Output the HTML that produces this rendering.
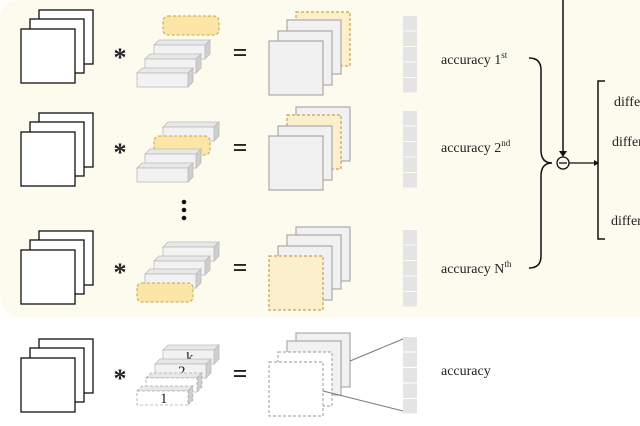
<!DOCTYPE html>
<html><head><meta charset="utf-8"><style>
html,body{margin:0;padding:0;background:#fff;}
svg{display:block;}
text{font-family:"Liberation Serif",serif;fill:#222;}
</style></head><body>
<svg id="s" width="640" height="426" viewBox="0 0 640 426" xmlns="http://www.w3.org/2000/svg">
<path d="M0,20 Q0,0 20,0 L640,0 L640,318 L28,318 Q0,318 0,290 Z" fill="#fdfaee"/>
<g id="g"></g>
<text x="441" y="64" font-size="14">accuracy 1<tspan font-size="9" dy="-6">st</tspan></text>
<text x="441" y="152" font-size="14">accuracy 2<tspan font-size="9" dy="-6">nd</tspan></text>
<text x="441" y="273" font-size="14">accuracy N<tspan font-size="9" dy="-6">th</tspan></text>
<text x="441" y="375" font-size="14">accuracy</text>
<path d="M529,58 Q541,58 541,70 L541,150 Q541,163 552,163 Q541,163 541,176 L541,256 Q541,268 529,268" fill="none" stroke="#111" stroke-width="1.5"/>
<line x1="563" y1="0" x2="563" y2="152" stroke="#111" stroke-width="1.5"/>
<path d="M559,151 L567,151 L563,157 Z" fill="#111"/>
<circle cx="563" cy="163" r="6" fill="none" stroke="#111" stroke-width="1.3"/>
<line x1="559" y1="163" x2="567" y2="163" stroke="#111" stroke-width="1.3"/>
<line x1="569" y1="163" x2="594" y2="163" stroke="#111" stroke-width="1.3"/>
<path d="M594,160 L599,163 L594,166 Z" fill="#111"/>
<path d="M605,81 L598,81 L598,239 L605,239" fill="none" stroke="#111" stroke-width="1.5"/>
<text x="614" y="106" font-size="14">difference</text>
<text x="612" y="146" font-size="14">difference</text>
<text x="611" y="225" font-size="14">difference</text>
<g>
<circle cx="184" cy="202" r="2.3" fill="#111"/><circle cx="184" cy="210" r="2.3" fill="#111"/><circle cx="184" cy="218" r="2.3" fill="#111"/>
</g>
</svg>
<script>
const g=document.getElementById('g');
const NS='http://www.w3.org/2000/svg';
function el(t,a,p){const e=document.createElementNS(NS,t);for(const k in a)e.setAttribute(k,a[k]);(p||g).appendChild(e);return e;}
const rowsY=[29,132,250,358];
rowsY.forEach((y,i)=>{
  [[18,-19],[9,-10],[0,0]].forEach(([dx,dy])=>{
    const r=el('rect',{x:21+dx,y:y+dy,width:54,height:54,fill:'#fff',stroke:'#111','stroke-width':1.3});
    
    
  });
});
[53,148,268,374].forEach(y=>{
  const t=el('text',{x:120,y:y+13,'font-size':26,'font-weight':'bold','text-anchor':'middle'});t.textContent='*';
  
  
  const e=el('text',{x:240,y:y+8,'font-size':26,'font-weight':'bold','text-anchor':'middle'});e.textContent='=';
  
  
});
function bar(x,y,kind,label){
  const grp=el('g',{});
  
  
  if(kind==='y'){
    el('rect',{x:x,y:y,width:56,height:19,rx:5,fill:'#fbe6a8',stroke:'#c9a24a','stroke-dasharray':'3,2'},grp);
  } else {
    const dash=kind==='d'?{'stroke-dasharray':'3,2'}:{};
    const f=kind==='d'?'#fff':'#f2f2f2', c=kind==='d'?'#aaa':'#bbb';
    el('path',Object.assign({d:`M${x},${y+5} l5,-5 l51,0 l-5,5 z`,fill:'#e8e8e8',stroke:c,'stroke-width':0.8},dash),grp);
    el('path',Object.assign({d:`M${x+51},${y+5} l5,-5 l0,14 l-5,5 z`,fill:'#cfcfcf',stroke:c,'stroke-width':0.8},dash),grp);
    el('rect',Object.assign({x:x,y:y+5,width:51,height:14,fill:f,stroke:c,'stroke-width':0.8},dash),grp);
    if(label){const t=el('text',{x:x+23,y:y+17,'font-size':15},grp);t.textContent=label;}
  }
}
bar(163,16,'y');bar(154,40,'g');bar(145,54,'g');bar(137,68,'g');
bar(163,122,'g');bar(154,136,'y');bar(145,149,'g');bar(137,163,'g');
bar(163,242,'g');bar(154,256,'g');bar(145,269,'g');bar(137,283,'y');
bar(163,345,'g','k');bar(155,359,'g','2');bar(146,373,'d');bar(137,386,'d','1');
function stack(y0,kinds){
  [[27,-29],[18,-21],[9,-10],[0,0]].forEach(([dx,dy],j)=>{
    const k=kinds[j];
    let a={x:269+dx,y:y0+dy,width:54,height:54,'stroke-width':1.2};
    if(k==='y')Object.assign(a,{fill:'#fcf0cc',stroke:'#c9a24a','stroke-dasharray':'3,2'});
    else if(k==='d')Object.assign(a,{fill:'#fff',stroke:'#aaa','stroke-dasharray':'3,2'});
    else Object.assign(a,{fill:'#f1f1f1',stroke:'#aaa'});
    const r=el('rect',a);
    
    
  });
}
stack(41,['y','g','g','g']);stack(136,['g','y','g','g']);stack(256,['g','g','g','y']);stack(362,['g','g','d','d']);
[16,111,230,337].forEach(y=>{
  for(let k=0;k<5;k++){
    const r=el('rect',{x:403,y:y+k*15.5,width:14,height:14.5,fill:'#e4e4e4'});
    
    
  }
});
el('line',{x1:350,y1:361,x2:403,y2:339,stroke:'#777','stroke-width':1});
el('line',{x1:323,y1:391,x2:403,y2:411,stroke:'#777','stroke-width':1});
</script>
</body></html>
